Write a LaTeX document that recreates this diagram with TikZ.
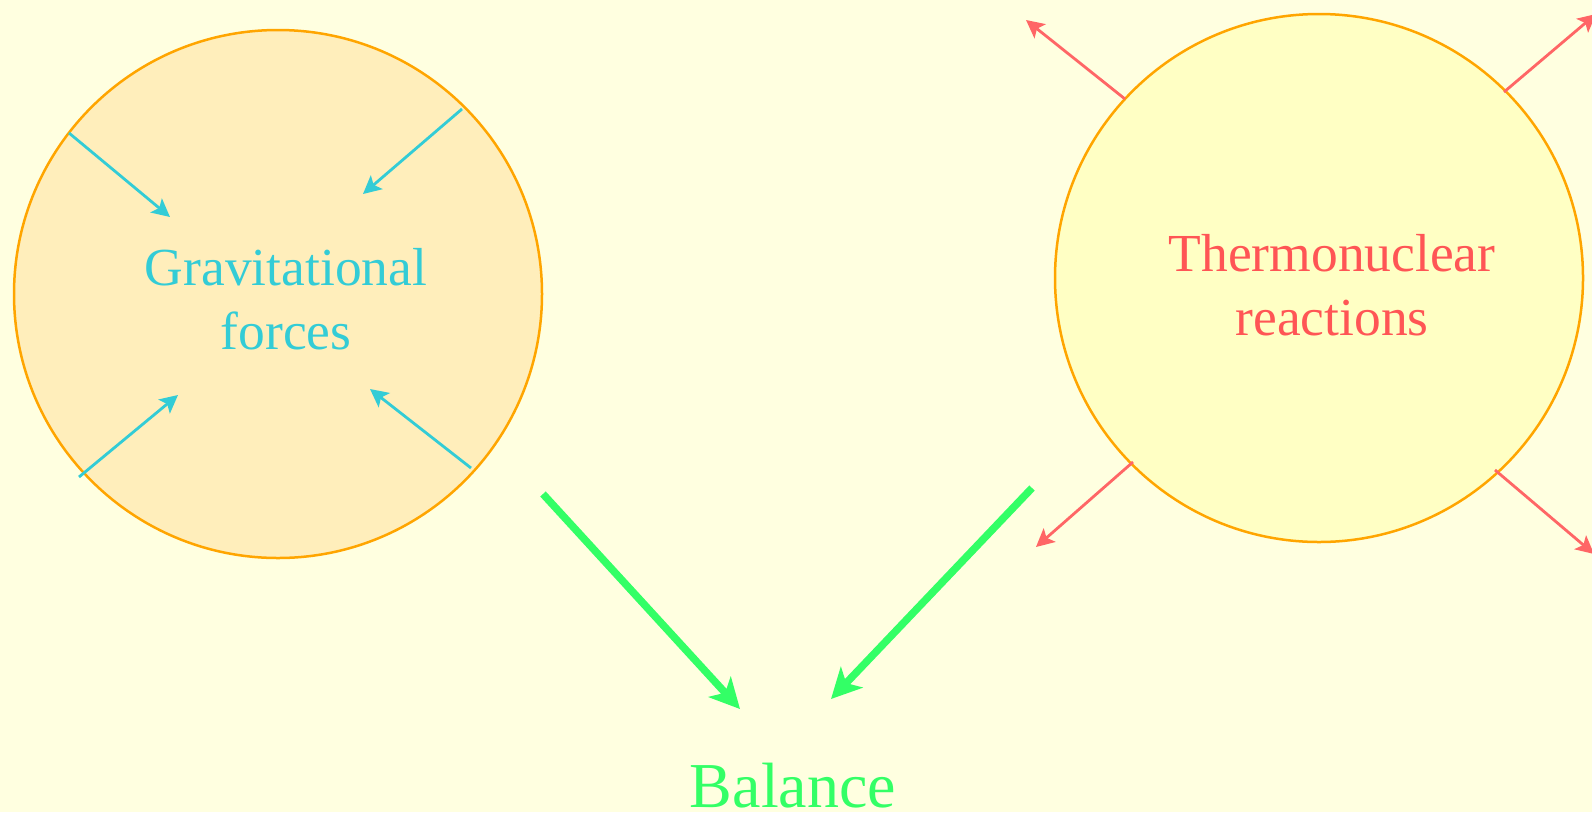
\documentclass[tikz,border=0pt]{standalone}
\usepackage{fontspec}
\setmainfont{Liberation Serif}
\usetikzlibrary{arrows.meta}
\definecolor{bgc}{HTML}{FFFFE0}
\definecolor{gfill}{HTML}{FFEEBB}
\definecolor{tfill}{HTML}{FFFFC4}
\definecolor{ring}{HTML}{FFA500}
\definecolor{cyanc}{HTML}{33CCD6}
\definecolor{redc}{HTML}{FF6666}
\definecolor{redt}{HTML}{FF5555}
\definecolor{greenc}{HTML}{33FF66}
\tikzset{
  star/.style={circle, draw=ring, line width=2.5pt, minimum size=528pt, inner sep=0pt},
  lab/.style={align=center, font=\fontsize{53.5}{64}\selectfont},
  inarrow/.style={draw=cyanc, line width=2.8pt, -{Stealth[length=18pt,width=18pt,inset=4pt]}},
  outarrow/.style={draw=redc, line width=2.8pt, -{Stealth[length=18pt,width=18pt,inset=4pt]}},
  balarrow/.style={draw=greenc, line width=7.5pt, -{Stealth[length=30pt,width=30pt,inset=8pt]}},
}
\begin{document}
\begin{tikzpicture}[x=1pt,y=-1pt]
\fill[bgc] (0,0) rectangle (1592,812);
\useasboundingbox (0,0) rectangle (1592,812);
\begin{scope}
\clip (0,0) rectangle (1592,812);
\node[star, fill=gfill] (grav) at (278,294) {};
\node[star, fill=tfill] (thermo) at (1319,278) {};
\node[lab, text=cyanc, anchor=base] (gtext) at (286,349) {Gravitational\\forces};
\node[lab, text=redt, anchor=base] (ttext) at (1332,335) {Thermonuclear\\reactions};
\node[font=\fontsize{64}{76}\selectfont, text=greenc, anchor=base] (bal) at (793,807) {Balance};
% gravitational arrows
\coordinate (g1s) at (69,133);  \coordinate (g1e) at (170,217);
\coordinate (g2s) at (462,109); \coordinate (g2e) at (363,194);
\coordinate (g3s) at (79,477);  \coordinate (g3e) at (178,395);
\coordinate (g4s) at (471,468); \coordinate (g4e) at (370,389);
\draw[inarrow] (g1s) -- (g1e);
\draw[inarrow] (g2s) -- (g2e);
\draw[inarrow] (g3s) -- (g3e);
\draw[inarrow] (g4s) -- (g4e);
% thermonuclear arrows
\coordinate (t1s) at (1125,99);  \coordinate (t1e) at (1026,20);
\coordinate (t2s) at (1504,92);  \coordinate (t2e) at (1596,14);
\coordinate (t3s) at (1133,462); \coordinate (t3e) at (1036,547);
\coordinate (t4s) at (1495,470); \coordinate (t4e) at (1594,554);
\draw[outarrow] (t1s) -- (t1e);
\draw[outarrow] (t2s) -- (t2e);
\draw[outarrow] (t3s) -- (t3e);
\draw[outarrow] (t4s) -- (t4e);
% balance arrows
\coordinate (b1s) at (543,494); \coordinate (b1e) at (740,709);
\coordinate (b2s) at (1032,488); \coordinate (b2e) at (831,699);
\draw[balarrow] (b1s) -- (b1e);
\draw[balarrow] (b2s) -- (b2e);
\end{scope}
\end{tikzpicture}
\end{document}
